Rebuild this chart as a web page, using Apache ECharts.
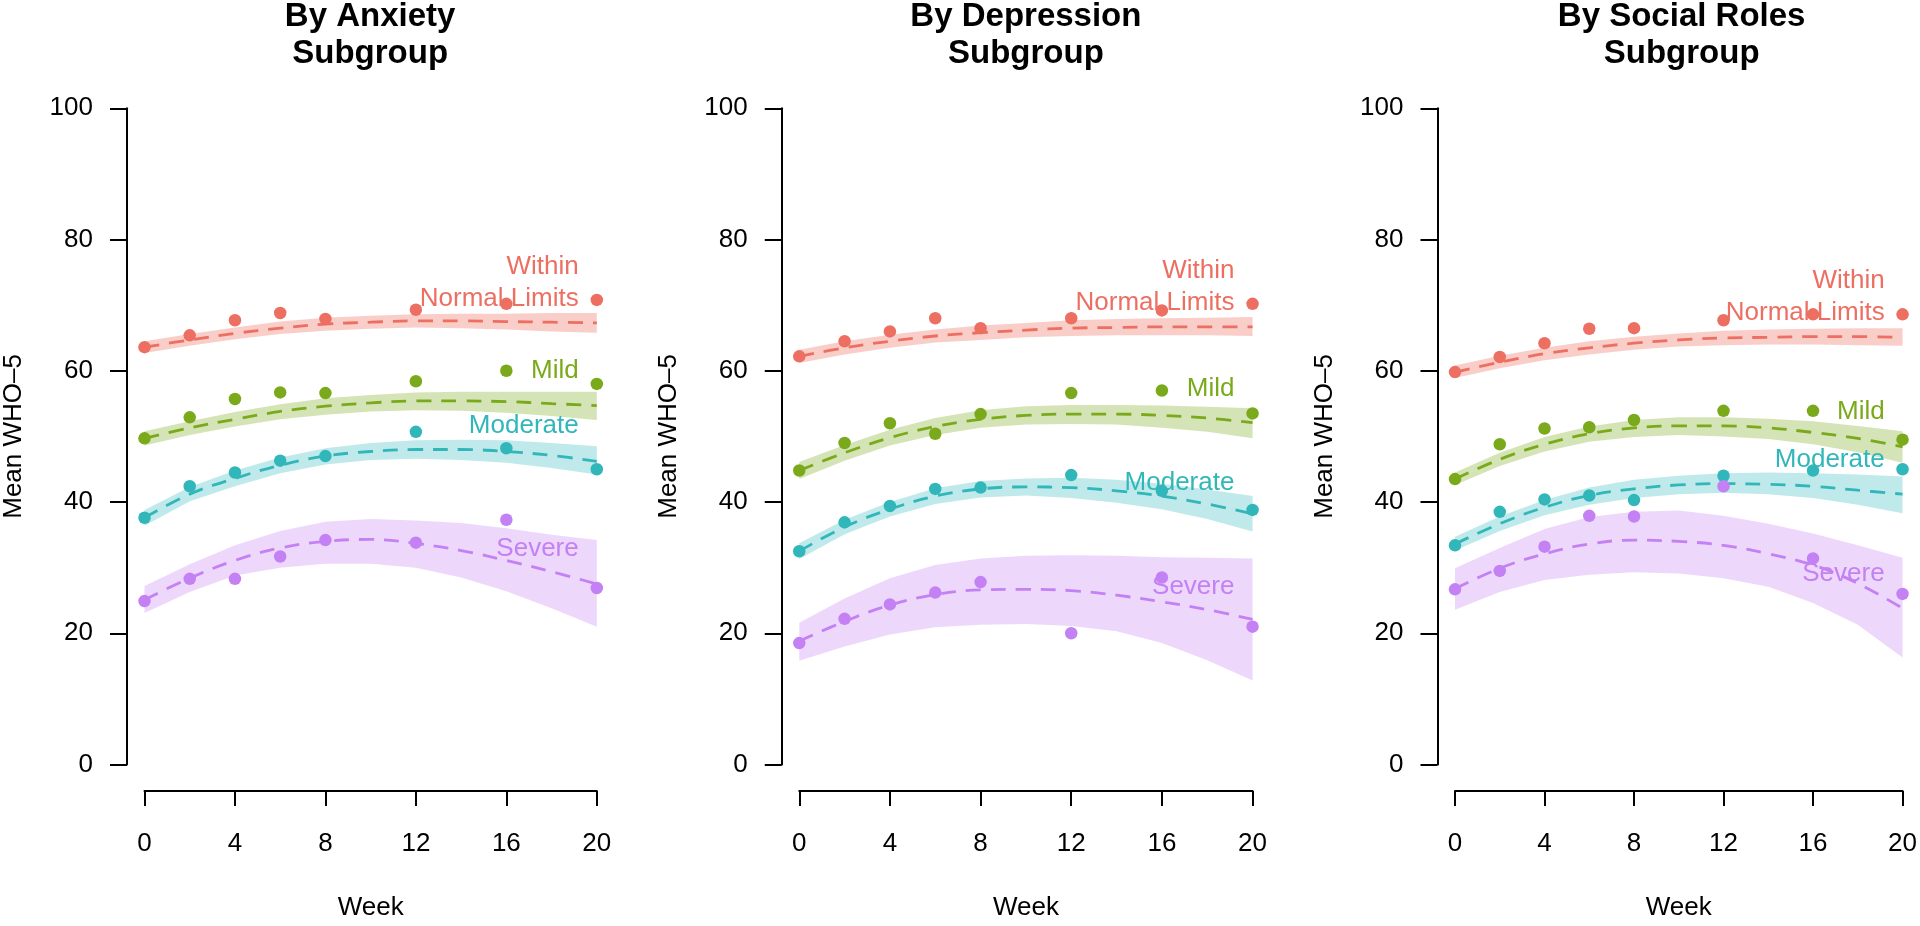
<!DOCTYPE html>
<html>
<head>
<meta charset="utf-8">
<script src="https://cdn.jsdelivr.net/npm/echarts@6/dist/echarts.min.js"></script>
<style>
html,body{margin:0;padding:0;background:#fff;}
#chart{width:1920px;height:926px;}
</style>
</head>
<body>
<div id="chart"></div>
<script>
// ---------- DATA ----------
const panelTitles = ['By Anxiety\nSubgroup', 'By Depression\nSubgroup', 'By Social Roles\nSubgroup'];
const groupNames = ['Within\nNormal Limits', 'Mild', 'Moderate', 'Severe'];
const obsWeeks = [0, 2, 4, 6, 8, 12, 16, 20];
const fitWeeks = [0, 2, 4, 6, 8, 10, 12, 14, 16, 18, 20];
const xTicks = [0, 4, 8, 12, 16, 20];
const yTicks = [0, 20, 40, 60, 80, 100];

// Panel 1: Anxiety
const anxObsWnl  = [63.6, 65.4, 67.7, 68.8, 67.9, 69.3, 70.2, 70.8];
const anxObsMild = [49.7, 52.9, 55.7, 56.7, 56.6, 58.4, 60.0, 58.0];
const anxObsMod  = [37.6, 42.4, 44.5, 46.3, 47.0, 50.7, 48.2, 45.0];
const anxObsSev  = [24.9, 28.3, 28.3, 31.7, 34.2, 33.8, 37.3, 26.9];
const anxFitWnl  = [63.6, 64.7, 65.7, 66.5, 67.1, 67.4, 67.6, 67.6, 67.5, 67.4, 67.3];
const anxHiWnl   = [64.5, 65.6, 66.6, 67.5, 68.1, 68.4, 68.6, 68.7, 68.7, 68.8, 68.8];
const anxLoWnl   = [62.7, 63.8, 64.8, 65.6, 66.1, 66.4, 66.6, 66.5, 66.3, 66.0, 65.8];
const anxFitMild = [49.7, 51.3, 52.6, 53.8, 54.6, 55.1, 55.4, 55.4, 55.3, 55.0, 54.7];
const anxHiMild  = [50.8, 52.3, 53.7, 54.9, 55.8, 56.3, 56.7, 56.8, 56.8, 56.8, 56.8];
const anxLoMild  = [48.6, 50.2, 51.5, 52.6, 53.3, 53.8, 54.0, 53.9, 53.6, 53.1, 52.5];
const anxFitMod  = [37.6, 41.2, 43.6, 45.6, 47.0, 47.7, 48.0, 48.0, 47.7, 47.1, 46.2];
const anxHiMod   = [38.8, 42.3, 44.8, 46.8, 48.2, 49.0, 49.4, 49.5, 49.4, 49.0, 48.5];
const anxLoMod   = [36.4, 40.1, 42.4, 44.4, 45.7, 46.4, 46.6, 46.4, 46.0, 45.2, 44.2];
const anxFitSev  = [25.1, 28.4, 31.1, 33.0, 34.0, 34.3, 33.7, 32.6, 31.1, 29.4, 27.5];
const anxHiSev   = [27.2, 30.5, 33.4, 35.6, 37.0, 37.4, 37.2, 36.8, 36.0, 35.0, 34.2];
const anxLoSev   = [23.1, 26.3, 28.8, 30.0, 30.6, 30.6, 30.0, 28.5, 26.4, 23.8, 21.0];
const anxLabelY  = [73.35, 60.0, 51.6, 32.9];

// Panel 2: Depression
const depObsWnl  = [62.2, 64.5, 66.0, 68.0, 66.5, 68.0, 69.2, 70.2];
const depObsMild = [44.8, 49.0, 52.0, 50.4, 53.4, 56.6, 57.0, 53.5];
const depObsMod  = [32.5, 36.9, 39.4, 42.0, 42.2, 44.1, 41.7, 38.8];
const depObsSev  = [18.5, 22.2, 24.4, 26.2, 27.8, 20.0, 28.5, 21.0];
const depFitWnl  = [62.2, 63.5, 64.5, 65.3, 65.8, 66.2, 66.5, 66.6, 66.7, 66.7, 66.7];
const depHiWnl   = [63.2, 64.5, 65.5, 66.3, 66.9, 67.3, 67.7, 67.9, 68.0, 68.1, 68.2];
const depLoWnl   = [61.2, 62.5, 63.5, 64.3, 64.7, 65.1, 65.3, 65.4, 65.4, 65.4, 65.3];
const depFitMild = [44.8, 47.5, 49.8, 51.5, 52.6, 53.2, 53.4, 53.4, 53.2, 52.8, 52.1];
const depHiMild  = [46.1, 48.7, 51.0, 52.8, 54.0, 54.6, 54.8, 54.8, 54.7, 54.5, 54.3];
const depLoMild  = [43.5, 46.3, 48.6, 50.2, 51.3, 51.8, 51.9, 51.8, 51.3, 50.7, 49.7];
const depFitMod  = [32.5, 36.2, 38.9, 40.9, 42.0, 42.3, 42.2, 41.7, 40.9, 39.7, 38.2];
const depHiMod   = [33.7, 37.3, 40.0, 42.1, 43.2, 43.6, 43.7, 43.4, 42.8, 41.9, 40.9];
const depLoMod   = [31.3, 35.1, 37.8, 39.7, 40.7, 41.0, 40.6, 39.9, 38.9, 37.4, 35.5];
const depFitSev  = [18.8, 21.8, 24.3, 25.9, 26.6, 26.7, 26.5, 25.8, 24.8, 23.6, 22.1];
const depHiSev   = [21.6, 25.3, 28.4, 30.4, 31.4, 31.8, 31.9, 31.8, 31.6, 31.5, 31.4];
const depLoSev   = [15.8, 18.0, 19.8, 20.9, 21.3, 21.4, 21.1, 20.3, 18.5, 15.9, 12.8];
const depLabelY  = [72.8, 57.2, 43.0, 27.1];

// Panel 3: Social Roles
const socObsWnl  = [59.8, 62.1, 64.2, 66.4, 66.5, 67.7, 68.6, 68.6];
const socObsMild = [43.5, 48.8, 51.2, 51.4, 52.5, 53.9, 53.9, 49.5];
const socObsMod  = [33.4, 38.5, 40.4, 41.0, 40.3, 44.0, 44.8, 45.0];
const socObsSev  = [26.7, 29.5, 33.2, 37.9, 37.8, 42.4, 31.4, 26.0];
const socFitWnl  = [59.8, 61.3, 62.6, 63.5, 64.2, 64.7, 65.0, 65.1, 65.2, 65.2, 65.1];
const socHiWnl   = [60.8, 62.3, 63.5, 64.5, 65.2, 65.7, 66.1, 66.3, 66.4, 66.5, 66.5];
const socLoWnl   = [58.9, 60.4, 61.6, 62.5, 63.2, 63.7, 63.9, 64.0, 64.0, 63.9, 63.8];
const socFitMild = [43.5, 46.5, 48.8, 50.4, 51.3, 51.6, 51.6, 51.3, 50.6, 49.7, 48.4];
const socHiMild  = [44.5, 47.5, 49.9, 51.5, 52.5, 52.9, 52.9, 52.7, 52.3, 51.6, 50.8];
const socLoMild  = [42.6, 45.5, 47.7, 49.2, 49.9, 50.2, 50.0, 49.6, 48.8, 47.6, 46.0];
const socFitMod  = [33.6, 36.7, 39.2, 41.0, 42.0, 42.6, 42.8, 42.7, 42.4, 41.8, 41.2];
const socHiMod   = [34.7, 37.8, 40.3, 42.2, 43.4, 44.0, 44.4, 44.5, 44.4, 44.2, 43.9];
const socLoMod   = [32.6, 35.6, 38.0, 39.6, 40.6, 41.2, 41.4, 41.2, 40.6, 39.6, 38.3];
const socFitSev  = [26.8, 29.9, 32.1, 33.6, 34.2, 34.0, 33.4, 32.1, 30.4, 27.6, 23.8];
const socHiSev   = [29.9, 33.0, 35.9, 37.7, 38.5, 38.7, 37.9, 36.7, 35.2, 33.4, 31.5];
const socLoSev   = [23.6, 26.3, 28.1, 28.9, 29.3, 29.1, 28.4, 27.1, 24.6, 21.3, 16.3];
const socLabelY  = [71.25, 53.7, 46.5, 29.1];

const labelWeek = 19.2;

// ---------- STYLE ----------
const colors = ['#EC6F62', '#7AAA1B', '#31B7BA', '#C481F4'];
const bandColors = ['rgba(236,111,98,0.34)', 'rgba(122,170,27,0.32)', 'rgba(49,183,186,0.31)', 'rgba(196,129,244,0.31)'];
const FONT = '"Liberation Sans", Arial, Helvetica, sans-serif';

const panels = [
  { title: panelTitles[0], obs: [anxObsWnl, anxObsMild, anxObsMod, anxObsSev],
    fit: [anxFitWnl, anxFitMild, anxFitMod, anxFitSev], hi: [anxHiWnl, anxHiMild, anxHiMod, anxHiSev],
    lo: [anxLoWnl, anxLoMild, anxLoMod, anxLoSev], labelY: anxLabelY },
  { title: panelTitles[1], obs: [depObsWnl, depObsMild, depObsMod, depObsSev],
    fit: [depFitWnl, depFitMild, depFitMod, depFitSev], hi: [depHiWnl, depHiMild, depHiMod, depHiSev],
    lo: [depLoWnl, depLoMild, depLoMod, depLoSev], labelY: depLabelY },
  { title: panelTitles[2], obs: [socObsWnl, socObsMild, socObsMod, socObsSev],
    fit: [socFitWnl, socFitMild, socFitMod, socFitSev], hi: [socHiWnl, socHiMild, socHiMod, socHiSev],
    lo: [socLoWnl, socLoMild, socLoMod, socLoSev], labelY: socLabelY }
];

const LEFT0 = 143.5, STEP = 655.75, PW = 453.3, TOP = 108.3, PH = 663.4;

const grids = [], xAxes = [], yAxes = [], titles = [], series = [];
panels.forEach((pn, p) => {
  grids.push({ left: LEFT0 + STEP * p, top: TOP, width: PW, height: PH });
  titles.push({
    text: pn.title, left: LEFT0 + STEP * p + PW / 2, top: -2, textAlign: 'center', padding: 0,
    textStyle: { fontSize: 33, fontWeight: 'bold', lineHeight: 37.4, color: '#000', fontFamily: FONT }
  });
  xAxes.push({
    type: 'value', gridIndex: p, min: xTicks[0], max: xTicks[xTicks.length - 1], interval: 4, offset: 26.5,
    axisLine: { show: true, onZero: false, lineStyle: { color: '#000', width: 2 } },
    axisTick: { show: true, length: 15, lineStyle: { color: '#000', width: 2 } },
    axisLabel: { fontSize: 26, color: '#000', margin: 40, fontFamily: FONT },
    splitLine: { show: false },
    name: 'Week', nameLocation: 'middle', nameGap: 104,
    nameTextStyle: { fontSize: 26, color: '#000', fontFamily: FONT }
  });
  yAxes.push({
    type: 'value', gridIndex: p, min: yTicks[0], max: yTicks[yTicks.length - 1], interval: 20, offset: 17.5,
    axisLine: { show: true, onZero: false, lineStyle: { color: '#000', width: 2 } },
    axisTick: { show: true, length: 17, lineStyle: { color: '#000', width: 2 } },
    axisLabel: { fontSize: 26, color: '#000', margin: 34, fontFamily: FONT },
    splitLine: { show: false },
    name: 'Mean WHO\u20135', nameLocation: 'middle', nameRotate: 90, nameGap: 100,
    nameTextStyle: { fontSize: 26, color: '#000', fontFamily: FONT }
  });

  for (let g = 0; g < 4; g++) {
    const hi = pn.hi[g], lo = pn.lo[g];
    // confidence band
    series.push({
      type: 'custom', xAxisIndex: p, yAxisIndex: p, silent: true, z: 1, clip: false,
      data: [[0, 0]],
      renderItem: (params, api) => {
        const pts = [];
        for (let i = 0; i < fitWeeks.length; i++) pts.push(api.coord([fitWeeks[i], hi[i]]));
        for (let i = fitWeeks.length - 1; i >= 0; i--) pts.push(api.coord([fitWeeks[i], lo[i]]));
        return { type: 'polygon', shape: { points: pts }, style: { fill: bandColors[g] } };
      }
    });
    // fitted dashed line
    series.push({
      type: 'line', xAxisIndex: p, yAxisIndex: p, z: 2, clip: false, smooth: 0.4,
      showSymbol: false, silent: true,
      data: fitWeeks.map((w, i) => [w, pn.fit[g][i]]),
      lineStyle: { color: colors[g], width: 2.8, type: [15, 10] }
    });
    // observed means
    series.push({
      type: 'scatter', xAxisIndex: p, yAxisIndex: p, z: 3, clip: false, silent: true,
      symbolSize: 12.5,
      data: obsWeeks.map((w, i) => [w, pn.obs[g][i]]),
      itemStyle: { color: colors[g], opacity: 1 }
    });
    // group label
    series.push({
      type: 'custom', xAxisIndex: p, yAxisIndex: p, z: 4, clip: false, silent: true,
      data: [[labelWeek, pn.labelY[g]]],
      renderItem: (params, api) => {
        const pt = api.coord([api.value(0), api.value(1)]);
        return {
          type: 'text', x: pt[0], y: pt[1],
          style: { text: groupNames[g], fill: colors[g], fontSize: 26, fontFamily: FONT,
                   align: 'right', verticalAlign: 'middle', lineHeight: 32 }
        };
      }
    });
  }
});

const chart = echarts.init(document.getElementById('chart'), null, { renderer: 'canvas' });
chart.setOption({
  backgroundColor: '#fff',
  animation: false,
  title: titles,
  grid: grids,
  xAxis: xAxes,
  yAxis: yAxes,
  series: series
});
</script>
</body>
</html>
